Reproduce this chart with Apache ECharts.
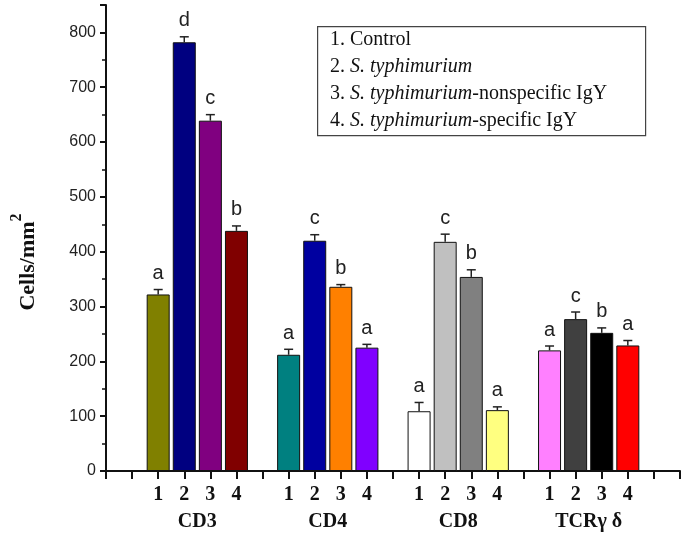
<!DOCTYPE html>
<html><head><meta charset="utf-8">
<script src="https://cdn.jsdelivr.net/npm/echarts@6/dist/echarts.min.js"></script>
<style>html,body{margin:0;padding:0;background:#fff}#c{width:684px;height:536px}</style>
</head><body><div id="c"></div>
<script>
// ---- data ----
const groups = ['CD3', 'CD4', 'CD8', 'TCRγ δ'];
const treatments = ['1', '2', '3', '4'];
const cd3 = [322, 782, 639, 438];
const cd3Err = [9, 10, 11, 9];
const cd3Letters = ['a', 'd', 'c', 'b'];
const cd4 = [212, 420, 336, 225];
const cd4Err = [10, 11, 4, 6];
const cd4Letters = ['a', 'c', 'b', 'a'];
const cd8 = [109, 418, 354, 111];
const cd8Err = [16, 14, 13, 6];
const cd8Letters = ['a', 'c', 'b', 'a'];
const tcr = [220, 277, 252, 229];
const tcrErr = [8, 13, 9, 9];
const tcrLetters = ['a', 'c', 'b', 'a'];
const yTicks = [0, 100, 200, 300, 400, 500, 600, 700, 800];
const yTitle = ['Cells/mm', '2'];
const legendItems = [
  [['n', '1. Control']],
  [['n', '2. '], ['i', 'S. typhimurium']],
  [['n', '3. '], ['i', 'S. typhimurium'], ['n', '-nonspecific IgY']],
  [['n', '4. '], ['i', 'S. typhimurium'], ['n', '-specific IgY']]
];
// ---- styles ----
const barColors = [
  ['#808000', '#000080', '#800080', '#800000'],
  ['#008080', '#0000A0', '#FF8000', '#8000FF'],
  ['#FFFFFF', '#C0C0C0', '#808080', '#FFFF80'],
  ['#FF80FF', '#404040', '#000000', '#FF0000']
];

const values = [cd3, cd4, cd8, tcr];
const errs = [cd3Err, cd4Err, cd8Err, tcrErr];
const letters = [cd3Letters, cd4Letters, cd8Letters, tcrLetters];

// slot layout on the numeric x axis: one empty slot before each group
const slotsPerGroup = treatments.length + 1;
const firstSlot = 2;
const slotLabel = {};
const groupCenter = {};
const barData = [];
const errData = [];
const letterFlat = [];
groups.forEach((g, gi) => {
  const start = firstSlot + gi * slotsPerGroup;
  groupCenter[start + (treatments.length - 1) / 2] = g;
  treatments.forEach((t, ti) => {
    const pos = start + ti;
    slotLabel[pos] = t;
    barData.push({ value: [pos, values[gi][ti]], itemStyle: { color: barColors[gi][ti] } });
    errData.push([pos, values[gi][ti], errs[gi][ti]]);
    letterFlat.push(letters[gi][ti]);
  });
});
const xMax = firstSlot + groups.length * slotsPerGroup;

const chart = echarts.init(document.getElementById('c'), null, { renderer: 'canvas' });
const serifFam = '"Liberation Serif","Times New Roman",serif';
const serifBold = { fontFamily: serifFam, fontWeight: 'bold', fontSize: 20, color: '#111' };

const graphics = [{
  type: 'rect', left: 317, top: 26, z: 10,
  shape: { width: 328, height: 109 },
  style: { fill: '#fff', stroke: '#444', lineWidth: 1.2 }
}, {
  type: 'text', x: 24, y: 262, rotation: Math.PI / 2, z: 10,
  style: {
    text: '{a|' + yTitle[0] + '}{s|' + yTitle[1] + '}',
    align: 'center', verticalAlign: 'middle',
    rich: {
      a: { fontFamily: serifFam, fontWeight: 'bold', fontSize: 22, fill: '#111', lineHeight: 30, verticalAlign: 'bottom' },
      s: { fontFamily: serifFam, fontWeight: 'bold', fontSize: 16, fill: '#111', lineHeight: 30, verticalAlign: 'top' }
    }
  }
}];
legendItems.forEach((parts, i) => {
  graphics.push({
    type: 'text', left: 330, top: 30 + i * 27, z: 11,
    style: {
      text: parts.map(p => '{' + p[0] + '|' + p[1] + '}').join(''),
      rich: {
        n: { fontFamily: serifFam, fontSize: 20, fill: '#111' },
        i: { fontFamily: serifFam, fontSize: 20, fontStyle: 'italic', fill: '#111' }
      }
    }
  });
});

chart.setOption({
  animation: false,
  backgroundColor: '#fff',
  grid: { left: 106, right: 4, top: 5, bottom: 65, containLabel: false },
  xAxis: [{
    type: 'value', min: 0, max: xMax, interval: 1,
    splitLine: { show: false },
    axisLine: { onZero: false, lineStyle: { color: '#111', width: 2 } },
    axisTick: { length: 8, lineStyle: { color: '#111', width: 2 } },
    axisLabel: {
      margin: 14, ...serifBold,
      formatter: v => slotLabel[v] || ''
    }
  }, {
    type: 'value', min: 0, max: xMax, interval: 0.5, position: 'bottom',
    splitLine: { show: false }, axisLine: { show: false }, axisTick: { show: false },
    axisLabel: { margin: 41, ...serifBold, formatter: v => groupCenter[v] || '' }
  }],
  yAxis: {
    type: 'value', min: 0, max: 850, interval: 100,
    splitLine: { show: false },
    axisLine: { show: true, lineStyle: { color: '#111', width: 2 } },
    axisTick: { show: true, length: 6, lineStyle: { color: '#111', width: 2 } },
    minorTick: { show: true, splitNumber: 2, length: 4, lineStyle: { color: '#111', width: 1.5 } },
    axisLabel: {
      margin: 10, fontFamily: 'Arial, "Liberation Sans", sans-serif', fontSize: 16, color: '#222',
      formatter: v => (yTicks.indexOf(v) >= 0 ? String(v) : '')
    }
  },
  series: [{
    type: 'bar', xAxisIndex: 0, data: barData, barWidth: 23,
    itemStyle: { borderColor: '#111', borderWidth: 1 }, z: 2
  }, {
    type: 'custom', xAxisIndex: 0, data: errData, z: 3,
    renderItem: (params, api) => {
      const x = api.value(0), y = api.value(1), e = api.value(2);
      const p0 = api.coord([x, y]);
      const p1 = api.coord([x, y + e]);
      return {
        type: 'group', children: [
          { type: 'line', shape: { x1: p0[0], y1: p0[1], x2: p1[0], y2: p1[1] }, style: { stroke: '#222', lineWidth: 1.5 } },
          { type: 'line', shape: { x1: p1[0] - 4.5, y1: p1[1], x2: p1[0] + 4.5, y2: p1[1] }, style: { stroke: '#222', lineWidth: 1.5 } },
          { type: 'text', x: p1[0], y: p1[1] - 6, style: { text: letterFlat[params.dataIndex], font: '20px Arial, "Liberation Sans", sans-serif', fill: '#222', align: 'center', verticalAlign: 'bottom' } }
        ]
      };
    }
  }],
  graphic: graphics
});
</script></body></html>
